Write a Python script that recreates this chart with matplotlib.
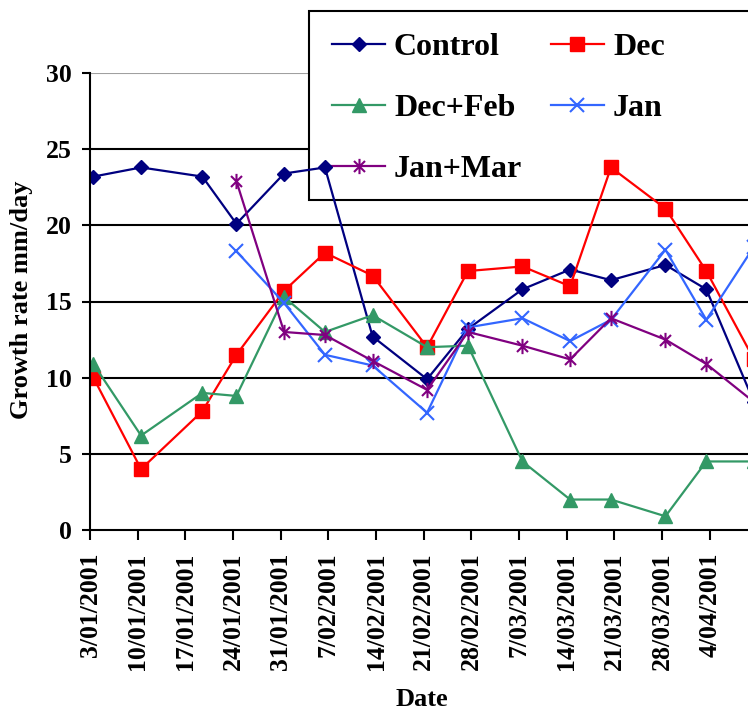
import matplotlib
matplotlib.use("Agg")
import matplotlib.pyplot as plt
import matplotlib.dates as mdates
from matplotlib.patches import Rectangle
from matplotlib.path import Path
from datetime import datetime
import numpy as np

plt.rcParams['font.family'] = ['Liberation Serif', 'DejaVu Serif']
plt.rcParams['font.weight'] = 'bold'

nan = np.nan

# Sampling dates (day/month/year)
sample_dates = ["3/01/2001", "10/01/2001", "19/01/2001", "24/01/2001", "31/01/2001",
                "6/02/2001", "13/02/2001", "21/02/2001", "27/02/2001", "7/03/2001",
                "14/03/2001", "20/03/2001", "28/03/2001", "3/04/2001", "10/04/2001"]

# Growth rate (mm/day) per treatment
control = [23.2, 23.8, 23.2, 20.1, 23.4, 23.8, 12.7, 9.9, 13.2, 15.8, 17.1, 16.4, 17.4, 15.8, 8.4]
dec = [10.0, 4.0, 7.8, 11.5, 15.7, 18.2, 16.7, 12.0, 17.0, 17.3, 16.0, 23.8, 21.1, 17.0, 11.2]
dec_feb = [10.9, 6.2, 9.0, 8.8, 15.3, 13.0, 14.1, 12.0, 12.1, 4.5, 2.0, 2.0, 0.9, 4.5, 4.5]
jan = [nan, nan, nan, 18.3, 14.9, 11.5, 10.8, 7.7, 13.3, 13.9, 12.4, 13.8, 18.4, 13.8, 18.6]
jan_mar = [nan, nan, nan, 22.9, 13.0, 12.8, 11.1, 9.2, 13.0, 12.1, 11.2, 13.9, 12.5, 10.9, 8.4]

# Weekly axis labels
tick_labels = ["3/01/2001", "10/01/2001", "17/01/2001", "24/01/2001", "31/01/2001",
               "7/02/2001", "14/02/2001", "21/02/2001", "28/02/2001", "7/03/2001",
               "14/03/2001", "21/03/2001", "28/03/2001", "4/04/2001"]

y_ticks = [0, 5, 10, 15, 20, 25, 30]


def to_num(s):
    return mdates.date2num(datetime.strptime(s, "%d/%m/%Y"))


# each value sits in the middle of its day slot on the date axis
x = np.array([to_num(s) for s in sample_dates]) + 0.5
xt = [to_num(s) for s in tick_labels]

# asterisk marker: a cross plus a vertical bar
d = 0.72
asterisk = Path([(0, -1), (0, 1), (-d, -d), (d, d), (-d, d), (d, -d)],
                [Path.MOVETO, Path.LINETO] * 3)

W, H = 748, 715
fig = plt.figure(figsize=(W / 100, H / 100), dpi=100)
px_per_day = 6.81
x0 = xt[0]
span = 100
ax = fig.add_axes([90 / W, 1 - 530 / H, span * px_per_day / W, (530 - 73) / H])
ax.set_xlim(x0, x0 + span)
ax.set_ylim(0, 30)

# horizontal gridlines
for v in y_ticks[1:-1]:
    ax.axhline(v, color='black', lw=1.5, zorder=1)
ax.axhline(30, color='#a0a0a0', lw=1.5, zorder=1)

series = [
    ("Control", control, dict(color='#000080', marker='D', ms=7.5)),
    ("Dec", dec, dict(color='#ff0000', marker='s', ms=9.5)),
    ("Dec+Feb", dec_feb, dict(color='#339966', marker='^', ms=10)),
    ("Jan", jan, dict(color='#3366ff', marker='x', ms=9.5, mew=1.5)),
    ("Jan+Mar", jan_mar, dict(color='#800080', marker=asterisk, ms=11, mew=1.5)),
]
handles = {}
for name, vals, st in series:
    h, = ax.plot(x, vals, lw=1.6, label=name, zorder=3, **st)
    handles[name] = h

for s in ['top', 'right']:
    ax.spines[s].set_visible(False)
for s in ['left', 'bottom']:
    ax.spines[s].set_linewidth(1.5)
    ax.spines[s].set_zorder(4)

ax.set_yticks(y_ticks)
ax.set_xticks(xt)
ax.set_xticklabels(tick_labels, rotation=90, fontsize=18.5, fontweight='bold')
ax.tick_params(axis='y', labelsize=18.5, length=6, width=1.5, pad=7)
ax.tick_params(axis='x', length=7, width=1.5, pad=9)

fig.text(22 / W, 1 - 300 / H, "Growth rate mm/day", rotation=90, ha='center', va='center',
         fontsize=19, fontweight='bold')
fig.text(422 / W, 1 - 700 / H, "Date", ha='center', va='center', fontsize=19, fontweight='bold')

# legend box (sits above the gridlines, under the data)
box = Rectangle((309 / W, 1 - 200 / H), 0.7, 189 / H, transform=fig.transFigure,
                facecolor='white', edgecolor='black', lw=1.5, clip_on=False, zorder=2.4)
ax.add_patch(box)

# entries listed column by column so the rows read Control/Dec, Dec+Feb/Jan, Jan+Mar
order = ["Control", "Dec+Feb", "Jan+Mar", "Dec", "Jan"]
leg = ax.legend(handles=[handles[n] for n in order], ncol=2, loc='upper left', frameon=False,
                bbox_to_anchor=(332 / W, 1 - 33 / H), bbox_transform=fig.transFigure,
                borderpad=0, borderaxespad=0, handlelength=1.66, handletextpad=0.28,
                labelspacing=0.98, columnspacing=0.9, prop=dict(weight='bold', size=23))
leg.set_zorder(2.5)

fig.savefig("out.png", dpi=100)
